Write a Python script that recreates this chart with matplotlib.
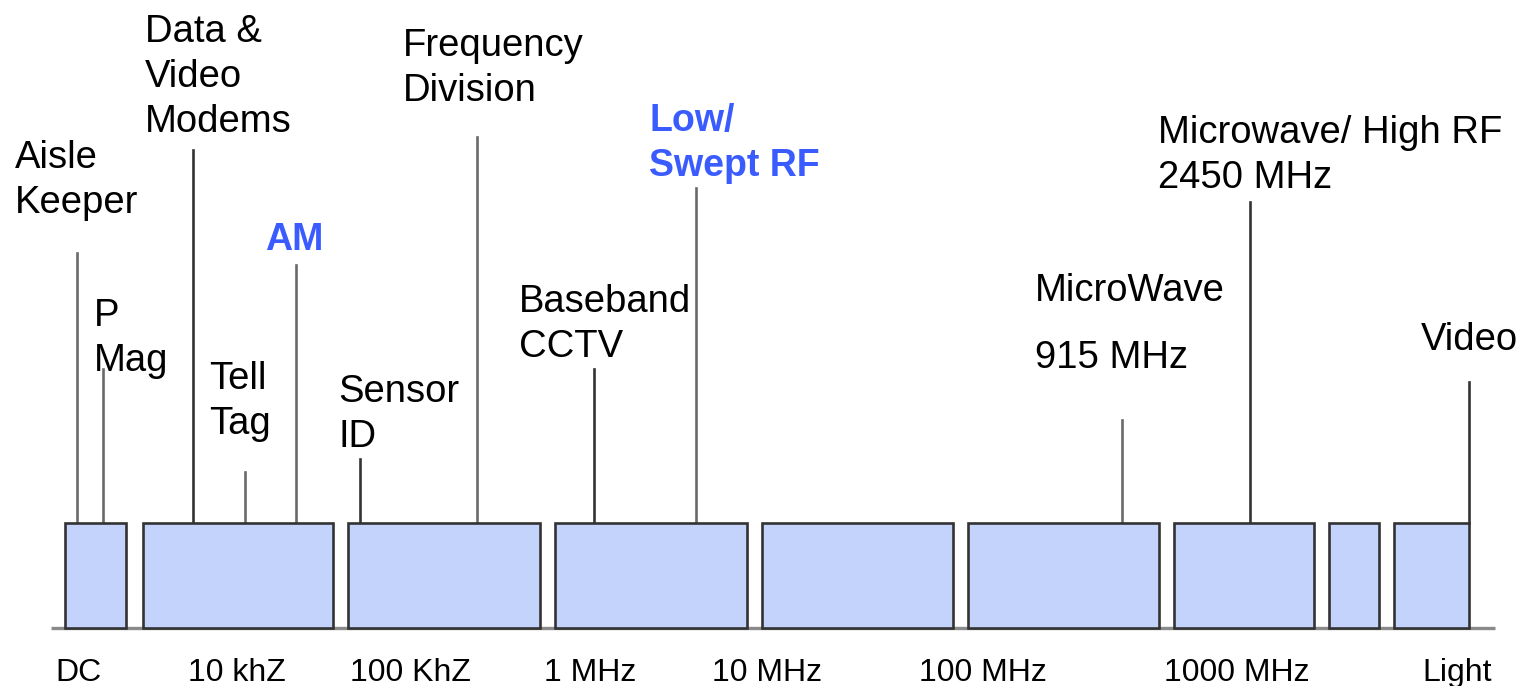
import matplotlib.pyplot as plt
from matplotlib.patches import Rectangle

# frequency bands drawn as boxes (left / right edge on the position axis)
band_left = [65, 143, 348, 555, 762, 968, 1174, 1329, 1394]
band_right = [126, 333, 540, 747, 953, 1159, 1314, 1379, 1469]
band_height = 105

# technologies: stem position and stem height above the baseline
stem_x = [77, 103, 193, 245, 296, 360, 477, 594, 696, 1122, 1250, 1469]
stem_h = [375, 259, 478, 156, 363, 169, 491, 259, 440, 208, 426, 246]
stem_dark = [0, 0, 1, 0, 0, 1, 0, 1, 0, 0, 1, 1]

# labels: text, left x, baseline height of first line
label_text = ["Aisle\nKeeper", "P\nMag", "Data &\nVideo\nModems", "Tell\nTag", "AM",
              "Sensor\nID", "Frequency\nDivision", "Baseband\nCCTV", "Low/\nSwept RF",
              "MicroWave", "915 MHz", "Microwave/ High RF\n2450 MHz", "Video"]
label_x = [15, 94, 145, 209, 265, 338, 403, 519, 649, 1035, 1035, 1158, 1421]
label_y = [460, 302, 586, 239, 378, 226, 572, 316, 497, 327, 260, 485, 278]
label_blue = [0, 0, 0, 0, 1, 0, 0, 0, 1, 0, 0, 0, 0]

# tick labels along the bottom
tick_pos = [78, 237, 410, 590, 767, 983, 1237, 1457]
tick_text = ["DC", "10 khZ", "100 KhZ", "1 MHz", "10 MHz", "100 MHz", "1000 MHz", "Light"]

plt.rcParams['font.family'] = ['Liberation Sans', 'DejaVu Sans']

fig = plt.figure(figsize=(15.24, 6.86), dpi=100)
ax = fig.add_axes([0, 0, 1, 1])
ax.set_xlim(0, 1524)
ax.set_ylim(-58, 628)
ax.axis('off')

line_gap = 45

# baseline
ax.plot([51, 1495], [0, 0], color='#8a8a8a', lw=2.4, solid_capstyle='butt', zorder=1)

for l, r in zip(band_left, band_right):
    ax.add_patch(Rectangle((l, 0), r - l, band_height, facecolor='#c4d3fb',
                           edgecolor='#333333', lw=1.9, zorder=2))

for x, h, d in zip(stem_x, stem_h, stem_dark):
    ax.plot([x, x], [band_height, h], color='#333333' if d else '#6a6a6a',
            lw=1.9, zorder=1)

for t, x, y, b in zip(label_text, label_x, label_y, label_blue):
    for i, line in enumerate(t.split('\n')):
        ax.text(x, y - i * line_gap, line, fontsize=27.5 if not b else 27,
                color='#3a5cff' if b else 'black',
                fontweight='bold' if b else 'normal',
                ha='left', va='baseline')

for p, t in zip(tick_pos, tick_text):
    ax.text(p, -53, t, fontsize=23, ha='center', va='baseline', color='black')

fig.savefig('out.png', dpi=100)
